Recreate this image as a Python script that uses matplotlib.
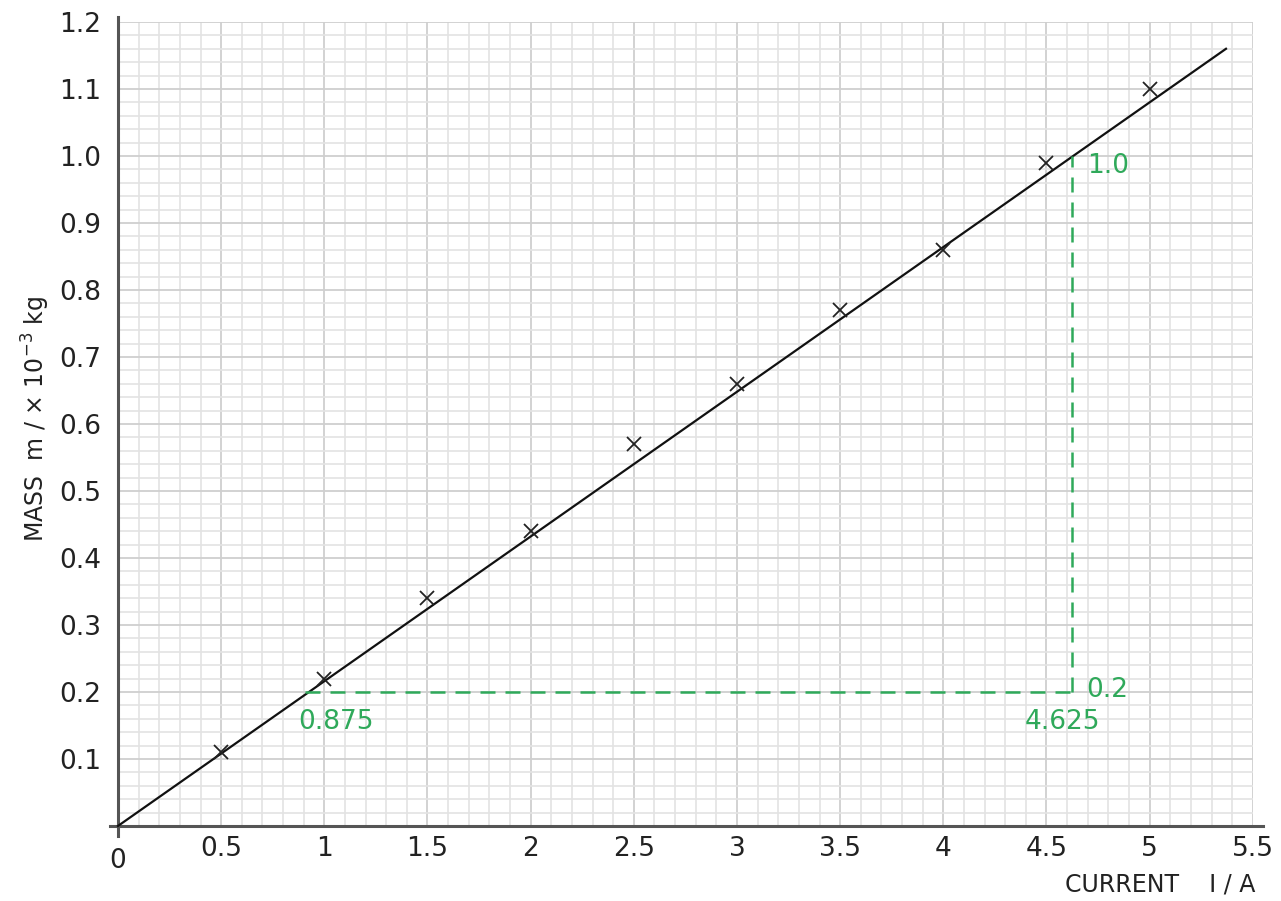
import matplotlib
matplotlib.use("Agg")
import matplotlib.pyplot as plt
from matplotlib.ticker import MultipleLocator
import numpy as np

# Data
current = [0.5, 1.0, 1.5, 2.0, 2.5, 3.0, 3.5, 4.0, 4.5, 5.0]
mass = [0.11, 0.22, 0.34, 0.44, 0.57, 0.66, 0.77, 0.86, 0.99, 1.10]

# best-fit line (drawn through origin)
fit_x = [0.0, 5.37]
fit_y = [0.0, 1.16]

# gradient triangle
grad_x = [0.875, 4.625]
grad_y = [0.2, 1.0]

x_ticks = [0.5, 1, 1.5, 2, 2.5, 3, 3.5, 4, 4.5, 5, 5.5]
x_tick_labels = ["0.5", "1", "1.5", "2", "2.5", "3", "3.5", "4", "4.5", "5", "5.5"]
y_ticks = [0.1, 0.2, 0.3, 0.4, 0.5, 0.6, 0.7, 0.8, 0.9, 1.0, 1.1, 1.2]
y_tick_labels = ["0.1", "0.2", "0.3", "0.4", "0.5", "0.6", "0.7", "0.8", "0.9", "1.0", "1.1", "1.2"]

GREEN = "#2fa95a"
TXT = "#222222"
FS = 19

fig = plt.figure(figsize=(12.81, 9.01), dpi=100)
ax = fig.add_axes([0.0921, 0.0833, 0.8859, 0.8923])
ax.set_xlim(0, 5.5)
ax.set_ylim(0, 1.2)

ax.xaxis.set_major_locator(MultipleLocator(0.5))
ax.xaxis.set_minor_locator(MultipleLocator(0.1))
ax.yaxis.set_major_locator(MultipleLocator(0.1))
ax.yaxis.set_minor_locator(MultipleLocator(0.02))
ax.grid(which="minor", color="#e3e3e3", linewidth=1.2, zorder=0)
ax.grid(which="major", color="#cfcfcf", linewidth=1.3, zorder=0)
ax.set_axisbelow(True)

for s in ax.spines.values():
    s.set_visible(False)
ax.tick_params(which="both", length=0)
ax.set_xticks(x_ticks)
ax.set_xticklabels(x_tick_labels, fontsize=FS, color=TXT)
ax.set_yticks(y_ticks)
ax.set_yticklabels(y_tick_labels, fontsize=FS, color=TXT)
ax.tick_params(axis="x", pad=7)
ax.tick_params(axis="y", pad=12)
ax.xaxis.set_minor_formatter(plt.NullFormatter())
ax.yaxis.set_minor_formatter(plt.NullFormatter())

# axes lines (slightly extended beyond plotting area)
ax.plot([-0.04, 5.55], [0, 0], color="#555555", lw=2.2, clip_on=False, zorder=3)
ax.plot([0, 0], [-0.015, 1.207], color="#555555", lw=2.2, clip_on=False, zorder=3)
ax.text(0, -0.033, "0", ha="center", va="top", fontsize=FS, color=TXT)

# best-fit line and points
ax.plot(fit_x, fit_y, color="#111111", lw=1.6, zorder=4, clip_on=False)
ax.plot(current, mass, linestyle="none", marker="x", markersize=10,
        markeredgewidth=1.3, color="#222222", zorder=5)

# gradient construction
dash = (0, (6, 4))
ax.plot([0.905, grad_x[1]], [grad_y[0], grad_y[0]], color=GREEN, lw=1.8,
        linestyle=dash, zorder=4)
ax.plot([grad_x[1], grad_x[1]], [grad_y[0], grad_y[1]], color=GREEN, lw=1.8,
        linestyle=dash, zorder=4)
ax.text(grad_x[0], 0.155, "0.875", color=GREEN, fontsize=FS, ha="left", va="center")
ax.text(grad_x[1] - 0.23, 0.155, "4.625", color=GREEN, fontsize=FS, ha="left", va="center")
ax.text(grad_x[1] + 0.07, 0.203, "0.2", color=GREEN, fontsize=FS, ha="left", va="center")
ax.text(grad_x[1] + 0.07, 0.985, "1.0", color=GREEN, fontsize=FS, ha="left", va="center")

# axis labels
fig.text(0.028, 0.535, r"MASS  m / $\times$ 10$^{-3}$ kg", rotation=90,
         ha="center", va="center", fontsize=17, color=TXT)
fig.text(0.906, 0.018, "CURRENT    I / A", ha="center", va="center",
         fontsize=17, color=TXT)

fig.savefig("out.png", dpi=100, facecolor="white")
